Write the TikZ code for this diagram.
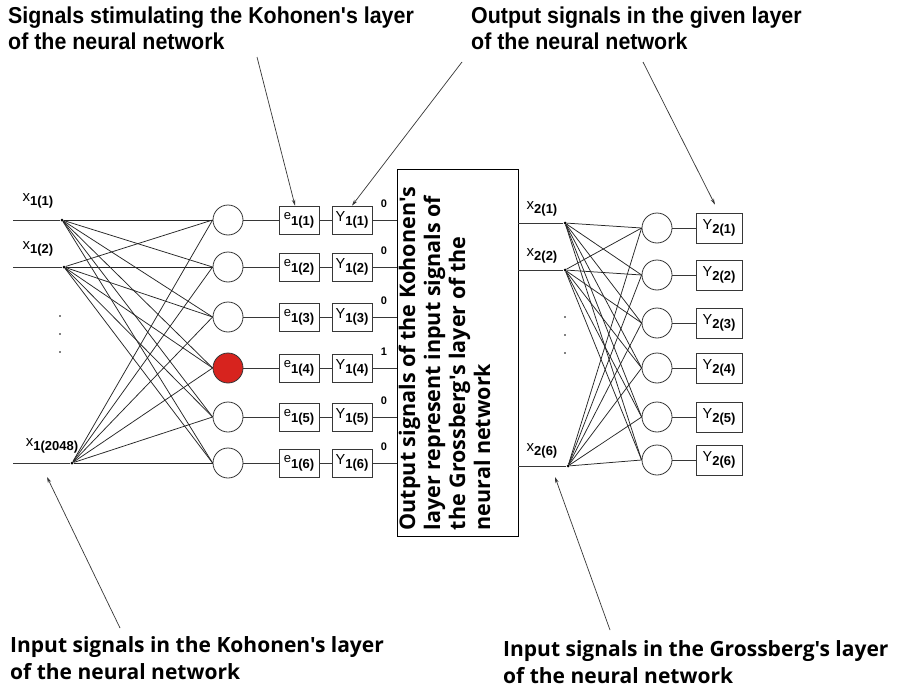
\documentclass[tikz,border=0pt]{standalone}
\usepackage{fontspec}
\setmainfont{Liberation Sans}
\newfontfamily\topfont[FakeStretch=0.93]{Liberation Sans}
\newfontfamily\osans{Open Sans}
\usetikzlibrary{arrows.meta,calc}
\definecolor{neuronred}{RGB}{215,35,30}
\definecolor{linegray}{RGB}{55,55,55}
\newcommand\mysig[2]{#1\raisebox{-4pt}{\fontsize{13}{13}\selectfont\bfseries #2}}
\newcommand\mysigE[2]{\raisebox{2pt}{\fontsize{13}{13}\selectfont #1}\raisebox{-4pt}{\fontsize{13}{13}\selectfont\bfseries #2}}
\begin{document}
\begin{tikzpicture}[x=1pt,y=-1pt,
 neuron/.style={circle,draw=linegray,line width=0.8pt,minimum size=30pt,inner sep=0pt},
 sigbox/.style={draw=linegray,line width=0.8pt,minimum width=40pt,minimum height=28pt,inner sep=0pt,font=\fontsize{14.5}{16}\selectfont},
 outbox/.style={sigbox,minimum width=46pt,minimum height=30pt},
 bigbox/.style={draw=black,line width=0.9pt,minimum width=121pt,minimum height=367pt,inner sep=0pt},
 bigtext/.style={font=\osans\bfseries\fontsize{21.5}{25}\selectfont,align=left,inner sep=0pt,rotate=90,anchor=north west},
 wire/.style={draw=linegray,line width=0.9pt},
 fan/.style={draw=black!85,line width=0.75pt},
 pointer/.style={draw=linegray,line width=0.7pt,-{Stealth[length=6pt,width=3.5pt]}},
 dotj/.style={circle,fill=black,inner sep=0pt,minimum size=3pt},
 lbl/.style={font=\fontsize{15}{17}\selectfont,inner sep=0pt},
 bitlbl/.style={font=\bfseries\fontsize{11}{11}\selectfont,inner sep=0pt},
 toplbl/.style={font=\topfont\bfseries\fontsize{23}{26}\selectfont,align=left,inner sep=0pt,anchor=base west},
 botlbl/.style={font=\osans\bfseries\fontsize{21}{27}\selectfont,align=left,inner sep=0pt,anchor=base west},
 ]
\useasboundingbox[fill=white] (0,0) rectangle (898,688);

% central box
\node[bigbox] (big) at (457.5,352.5) {};
\node[bigtext] (bigtxt) at ($(big.south west)+(2,-6)$) {Output signals of the Kohonen's\\layer represent input signals of\\the Grossberg's layer of the\\neural network};

% Kohonen layer
\foreach \i/\y/\f/\b in {1/220/white/0,2/267/white/0,3/317/white/0,4/368/neuronred/1,5/417/white/0,6/463/white/0}{
  \node[neuron,fill=\f] (c\i) at (228,\y) {};
  \node[sigbox] (e\i) at (299,\y) {\mysigE{e}{1(\i)}};
  \node[sigbox] (y\i) at (352,\y) {\mysig{Y}{1(\i)}};
  \node[bitlbl] (b\i) at (384,\y-16) {\b};
  \draw[wire] (c\i) -- (e\i);
  \draw[wire] (e\i) -- (y\i);
  \draw[wire] (y\i.east) -- (y\i.east -| big.west);
}

% inputs of Kohonen layer
\foreach \n/\x/\y in {1/62/220,2/64/267,3/72/463}{
  \coordinate (sa\n) at (13,\y);
  \node[dotj] (ja\n) at (\x,\y) {};
  \draw[wire] (sa\n) -- (ja\n);
  \foreach \k in {1,...,6}{\draw[fan] (ja\n) -- (c\k.west);}
}
\node[lbl] (lx1) at (38,201) {\mysig{x}{1(1)}};
\node[lbl] (lx2) at (38,249) {\mysig{x}{1(2)}};
\node[lbl] (lx3) at (52,446) {\mysig{x}{1(2048)}};
\foreach \yy in {316,334,352}{\fill (60,\yy) circle (0.9pt);}

% Grossberg layer
\foreach \i/\y in {1/228,2/275,3/323,4/368,5/417,6/460}{
  \node[neuron] (d\i) at (657,\y) {};
  \node[outbox] (z\i) at (719,\y) {\mysig{Y}{2(\i)}};
  \draw[wire] (d\i) -- (z\i);
}
\foreach \n/\x/\y in {1/565/223,2/565/270,3/568/466}{
  \coordinate (sb\n) at (big.east |- 0,\y);
  \node[dotj] (jb\n) at (\x,\y) {};
  \draw[wire] (sb\n) -- (jb\n);
  \foreach \k in {1,...,6}{\draw[fan] (jb\n) -- (d\k.west);}
}
\node[lbl] (lz1) at (542,209) {\mysig{x}{2(1)}};
\node[lbl] (lz2) at (542,256) {\mysig{x}{2(2)}};
\node[lbl] (lz3) at (542,451) {\mysig{x}{2(6)}};
\foreach \yy in {317,335,353}{\fill (565,\yy) circle (0.9pt);}

% annotations
\node[toplbl] (t1) at (8,49) {Signals stimulating the Kohonen's layer\\of the neural network};
\node[toplbl] (t2) at (471,49) {Output signals in the given layer\\of the neural network};
\node[botlbl] (t3) at (10,679) {Input signals in the Kohonen's layer\\of the neural network};
\node[botlbl] (t4) at (503,683) {Input signals in the Grossberg's layer\\of the neural network};

\coordinate (p1s) at (257,57);
\draw[pointer] (p1s) -- ($(e1.north)+(-4,0)$);
\coordinate (p2s) at (462,62);
\draw[pointer] (p2s) -- (y1.north);
\coordinate (p3s) at (643,62);
\draw[pointer,shorten >=9pt] (p3s) -- (z1.north);
\coordinate (p4s) at (120,628);
\coordinate (p4e) at (47,477);
\draw[pointer] (p4s) -- (p4e);
\coordinate (p5s) at (610,630);
\coordinate (p5e) at (555,477);
\draw[pointer] (p5s) -- (p5e);
\end{tikzpicture}
\end{document}
